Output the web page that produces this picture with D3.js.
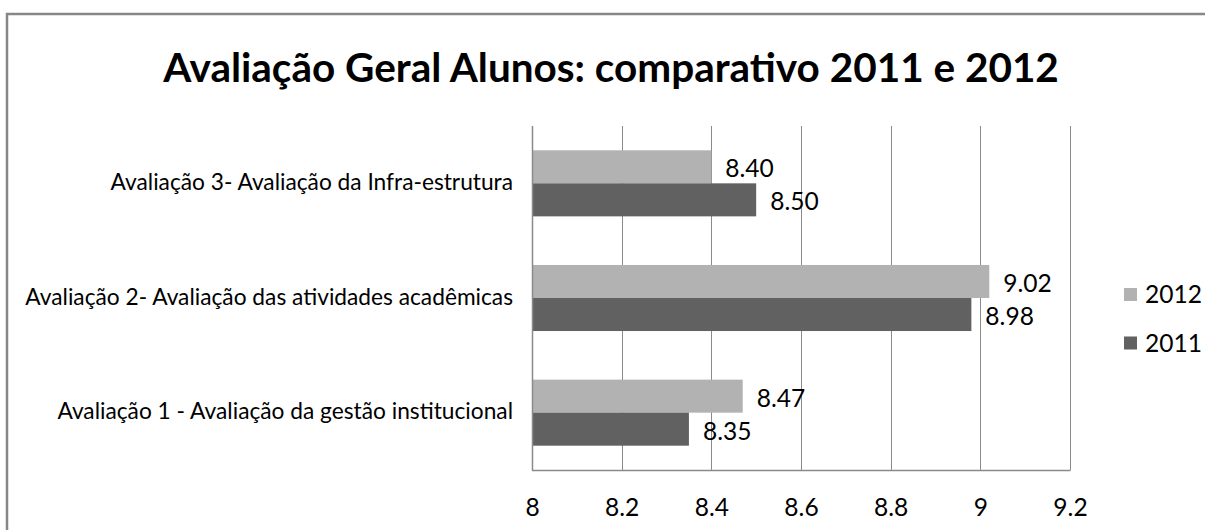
<!DOCTYPE html>
<html>
<head>
<meta charset="utf-8">
<script src="https://cdn.jsdelivr.net/npm/d3@7"></script>
<style>
  html, body { margin: 0; padding: 0; background: #fff; overflow: hidden; }
  svg { display: block; }
  text { font-family: Lato, "Open Sans", sans-serif; fill: #000; }
</style>
</head>
<body>
<svg id="chart" width="1205" height="530"></svg>
<script>
// ---- data ----
const categories = [
  "Avaliação 1 - Avaliação da gestão institucional",
  "Avaliação 2- Avaliação das atividades acadêmicas",
  "Avaliação 3- Avaliação da Infra-estrutura"
];
const seriesNames = ["2012", "2011"];
const values2012 = [8.47, 9.02, 8.40];
const values2011 = [8.35, 8.98, 8.50];
const tickValues = [8, 8.2, 8.4, 8.6, 8.8, 9, 9.2];
const tickLabels = ["8", "8.2", "8.4", "8.6", "8.8", "9", "9.2"];
const valueLabels2012 = ["8.47", "9.02", "8.40"];
const valueLabels2011 = ["8.35", "8.98", "8.50"];
const titleText = "Avaliação Geral Alunos: comparativo 2011 e 2012";

// ---- layout ----
const svg = d3.select("#chart");
const colors = { "2012": "#b2b2b2", "2011": "#616161" };
const plot = { left: 532, right: 1070, top: 126, bottom: 470 };

// outer frame: only top and left edges fall inside the window
svg.append("path")
  .attr("d", "M7,540 L7,14 L1210,14")
  .attr("fill", "none").attr("stroke", "#878787").attr("stroke-width", 2.5);

const x = d3.scaleLinear().domain([8, 9.2]).range([plot.left, plot.right]);
const y = d3.scaleBand()
  .domain(categories.slice().reverse())
  .range([plot.top, plot.bottom])
  .paddingInner(0.424).paddingOuter(0.212);
const ySub = d3.scaleBand().domain(seriesNames).range([0, y.bandwidth()]);

// gridlines
svg.append("g").selectAll("line").data(tickValues).join("line")
  .attr("x1", d => Math.round(x(d)) + 0.5).attr("x2", d => Math.round(x(d)) + 0.5)
  .attr("y1", plot.top).attr("y2", plot.bottom)
  .attr("stroke", "#8a8a8a").attr("stroke-width", 1);

// bars
const rows = categories.map((c, i) => ({ cat: c, v: { "2012": values2012[i], "2011": values2011[i] },
  l: { "2012": valueLabels2012[i], "2011": valueLabels2011[i] } }));
const flat = [];
rows.forEach(r => seriesNames.forEach(s => flat.push({ cat: r.cat, s, v: r.v[s], label: r.l[s] })));

svg.append("g").selectAll("rect").data(flat).join("rect")
  .attr("x", x(8))
  .attr("y", d => y(d.cat) + ySub(d.s))
  .attr("width", d => x(d.v) - x(8))
  .attr("height", ySub.bandwidth())
  .attr("fill", d => colors[d.s]);

// axis lines (left & bottom)
svg.append("line").attr("x1", plot.left + 0.5).attr("x2", plot.left + 0.5)
  .attr("y1", plot.top).attr("y2", plot.bottom + 0.5)
  .attr("stroke", "#8a8a8a").attr("stroke-width", 1.5);
svg.append("line").attr("x1", plot.left).attr("x2", plot.right + 0.5)
  .attr("y1", plot.bottom + 0.5).attr("y2", plot.bottom + 0.5)
  .attr("stroke", "#8a8a8a").attr("stroke-width", 1.5);

// font size fit (Calibri-like widths)
const probe = svg.append("text").style("font-size", "20px").text(categories[1]);
const w20 = probe.node().getComputedTextLength();
probe.remove();
const fs = 20 * 488 / w20;

// x axis labels
const xAxis = d3.axisBottom(x).tickValues(tickValues)
  .tickFormat((d, i) => tickLabels[i]).tickSize(0).tickPadding(0);
const gx = svg.append("g").attr("transform", `translate(0,${plot.bottom})`).call(xAxis);
gx.select(".domain").remove();
gx.selectAll("text")
  .attr("y", 37).attr("dy", "0.35em")
  .style("font-family", "Lato, 'Open Sans', sans-serif")
  .style("font-size", (fs * 1.08) + "px").style("fill", "#000");

// category labels
const yAxis = d3.axisLeft(y).tickSize(0).tickPadding(19);
const gy = svg.append("g").attr("transform", `translate(${plot.left},0)`).call(yAxis);
gy.select(".domain").remove();
gy.selectAll("text")
  .attr("dy", "0.3em")
  .style("font-family", "Lato, 'Open Sans', sans-serif")
  .style("font-size", fs + "px").style("fill", "#000");

// value labels
svg.append("g").selectAll("text").data(flat).join("text")
  .attr("x", d => x(d.v) + 14)
  .attr("y", d => y(d.cat) + ySub(d.s) + ySub.bandwidth() / 2 + 2)
  .attr("dy", "0.35em")
  .style("font-size", (fs * 1.08) + "px")
  .text(d => d.label);

// legend
const legend = svg.append("g").selectAll("g").data(seriesNames).join("g")
  .attr("transform", (d, i) => `translate(1124,${294.5 + i * 48.5})`);
legend.append("rect").attr("x", 0).attr("y", -6.5).attr("width", 13).attr("height", 13)
  .attr("fill", d => colors[d]);
legend.append("text").attr("x", 21).attr("dy", "0.35em")
  .style("font-size", (fs * 1.08) + "px").text(d => d);

// title
const title = svg.append("text")
  .attr("x", 611).attr("y", 82).attr("text-anchor", "middle")
  .style("font-weight", "bold").style("font-size", "40px").text(titleText);
const tw = title.node().getComputedTextLength();
title.style("font-size", (40 * 896 / tw) + "px");
</script>
</body>
</html>
